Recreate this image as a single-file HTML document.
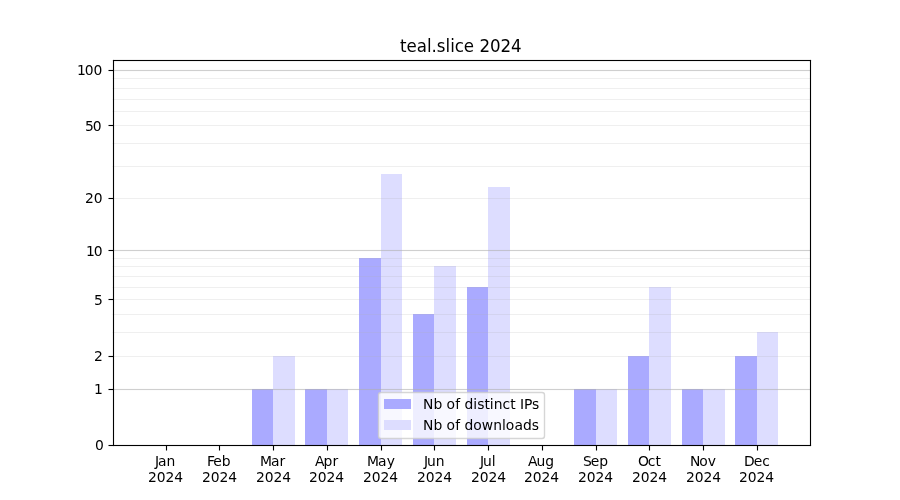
<!DOCTYPE html>
<html lang="en">
<head>
<meta charset="utf-8">
<title>teal.slice 2024</title>
<style>
html,body{margin:0;padding:0;background:#fff;width:900px;height:500px;overflow:hidden}
svg{display:block;will-change:transform}
text{font-family:"DejaVu Sans","Liberation Sans",sans-serif;fill:#000;font-size:13.889px}
.t{font-size:16.667px}
.bar{shape-rendering:crispEdges}
</style>
</head>
<body>
<svg width="900" height="500" viewBox="0 0 900 500">
<rect width="900" height="500" fill="#fff"/>
<g class="bar" fill="#aaaaff">
<rect x="252" y="389" width="21" height="56"/>
<rect x="305" y="389" width="22" height="56"/>
<rect x="359" y="258" width="22" height="187"/>
<rect x="413" y="314" width="21" height="131"/>
<rect x="467" y="287" width="21" height="158"/>
<rect x="574" y="389" width="22" height="56"/>
<rect x="628" y="356" width="21" height="89"/>
<rect x="682" y="389" width="21" height="56"/>
<rect x="735" y="356" width="22" height="89"/>
</g>
<g class="bar" fill="#ddddff">
<rect x="273" y="356" width="22" height="89"/>
<rect x="327" y="389" width="21" height="56"/>
<rect x="381" y="174" width="21" height="271"/>
<rect x="434" y="266" width="22" height="179"/>
<rect x="488" y="187" width="22" height="258"/>
<rect x="596" y="389" width="21" height="56"/>
<rect x="649" y="287" width="22" height="158"/>
<rect x="703" y="389" width="22" height="56"/>
<rect x="757" y="332" width="21" height="113"/>
</g>
<g fill="#b0b0b0" fill-opacity="0.605">
<rect x="112.5" y="388.944" width="697.5" height="1.111"/>
<rect x="112.5" y="249.944" width="697.5" height="1.111"/>
<rect x="112.5" y="69.944" width="697.5" height="1.111"/>
</g>
<g fill="#b0b0b0" fill-opacity="0.2">
<rect x="112.5" y="355.944" width="697.5" height="1.111"/>
<rect x="112.5" y="331.944" width="697.5" height="1.111"/>
<rect x="112.5" y="313.944" width="697.5" height="1.111"/>
<rect x="112.5" y="298.944" width="697.5" height="1.111"/>
<rect x="112.5" y="286.944" width="697.5" height="1.111"/>
<rect x="112.5" y="275.944" width="697.5" height="1.111"/>
<rect x="112.5" y="265.944" width="697.5" height="1.111"/>
<rect x="112.5" y="257.944" width="697.5" height="1.111"/>
<rect x="112.5" y="197.944" width="697.5" height="1.111"/>
<rect x="112.5" y="165.944" width="697.5" height="1.111"/>
<rect x="112.5" y="142.944" width="697.5" height="1.111"/>
<rect x="112.5" y="124.944" width="697.5" height="1.111"/>
<rect x="112.5" y="110.944" width="697.5" height="1.111"/>
<rect x="112.5" y="98.944" width="697.5" height="1.111"/>
<rect x="112.5" y="87.944" width="697.5" height="1.111"/>
<rect x="112.5" y="77.944" width="697.5" height="1.111"/>
</g>
<g fill="#000">
<rect x="165.944" y="445" width="1.111" height="5.5"/>
<rect x="218.944" y="445" width="1.111" height="5.5"/>
<rect x="272.944" y="445" width="1.111" height="5.5"/>
<rect x="326.944" y="445" width="1.111" height="5.5"/>
<rect x="380.944" y="445" width="1.111" height="5.5"/>
<rect x="433.944" y="445" width="1.111" height="5.5"/>
<rect x="487.944" y="445" width="1.111" height="5.5"/>
<rect x="541.944" y="445" width="1.111" height="5.5"/>
<rect x="595.944" y="445" width="1.111" height="5.5"/>
<rect x="648.944" y="445" width="1.111" height="5.5"/>
<rect x="702.944" y="445" width="1.111" height="5.5"/>
<rect x="756.944" y="445" width="1.111" height="5.5"/>
<rect x="108.5" y="444.944" width="4.5" height="1.111"/>
<rect x="108.5" y="388.944" width="4.5" height="1.111"/>
<rect x="108.5" y="355.944" width="4.5" height="1.111"/>
<rect x="108.5" y="298.944" width="4.5" height="1.111"/>
<rect x="108.5" y="249.944" width="4.5" height="1.111"/>
<rect x="108.5" y="197.944" width="4.5" height="1.111"/>
<rect x="108.5" y="124.944" width="4.5" height="1.111"/>
<rect x="108.5" y="69.944" width="4.5" height="1.111"/>
<rect x="112.944" y="59.944" width="1.111" height="386.111"/>
<rect x="809.944" y="59.944" width="1.111" height="386.111"/>
<rect x="112.944" y="59.944" width="698.111" height="1.111"/>
<rect x="112.944" y="444.944" width="698.111" height="1.111"/>
</g>
<rect x="378.5" y="392.5" width="166" height="46" rx="2.5" ry="2.5" fill="#fff" fill-opacity="0.8" stroke="#ccc" stroke-opacity="0.8" stroke-width="1.389"/>
<rect class="bar" x="384" y="399" width="27" height="10" fill="#aaaaff"/>
<rect class="bar" x="384" y="420" width="27" height="10" fill="#ddddff"/>
<text x="154.994 158.072 166.588" y="466">Jan</text>
<text x="148.026 156.839 165.417 174.245" y="482">2024</text>
<text x="206.892 213.361 221.642" y="466">Feb</text>
<text x="202.012 210.824 219.403 228.231" y="482">2024</text>
<text x="260.07 271.039 279.539" y="466">Mar</text>
<text x="255.999 264.811 273.39 282.218" y="482">2024</text>
<text x="314.895 323.379 332.442" y="466">Apr</text>
<text x="308.985 317.797 326.376 335.204" y="482">2024</text>
<text x="367.038 378.007 386.757" y="466">May</text>
<text x="362.972 371.784 380.613 389.191" y="482">2024</text>
<text x="424.031 427.109 435.656" y="466">Jun</text>
<text x="416.958 425.771 434.599 443.177" y="482">2024</text>
<text x="479.989 483.067 491.864" y="466">Jul</text>
<text x="470.945 479.758 488.586 497.164" y="482">2024</text>
<text x="528.045 536.529 545.326" y="466">Aug</text>
<text x="523.931 532.744 541.572 550.15" y="482">2024</text>
<text x="583.001 590.798 599.345" y="466">Sep</text>
<text x="577.918 586.731 595.559 604.137" y="482">2024</text>
<text x="638.07 647.726 655.617" y="466">Oct</text>
<text x="631.904 640.716 649.545 658.373" y="482">2024</text>
<text x="690.01 699.135 707.869" y="466">Nov</text>
<text x="685.891 694.703 703.532 712.36" y="482">2024</text>
<text x="744.112 753.784 762.331" y="466">Dec</text>
<text x="738.877 747.69 756.518 765.346" y="482">2024</text>
<text x="94.95" y="450">0</text>
<text x="93.95" y="394">1</text>
<text x="93.95" y="361">2</text>
<text x="93.95" y="305">5</text>
<text x="86.122 93.684" y="256">10</text>
<text x="85.122 93.684" y="203">20</text>
<text x="85.122 92.684" y="131">50</text>
<text x="77.044 84.856 93.434" y="75">100</text>
<text class="t" transform="matrix(1 0 0 1.08 0 -4.16)" x="400.031 406.547 416.797 427.016 431.391 436.688 445.609 450.234 454.859 463.766 474.266 479.562 489.906 500.516 511.109" y="52">teal.slice 2024</text>
<text x="422.995 433.62 442.417 446.589 455.323 460.214 464.62 473.182 477.276 484.511 489.698 493.807 502.604 510.229 515.667 520.073 523.917 532.042" y="409">Nb of distinct IPs</text>
<text x="422.995 433.62 442.417 446.589 455.323 460.214 464.62 473.182 481.667 493.261 502.057 505.667 514.401 522.901 531.714" y="430">Nb of downloads</text>
</svg>
</body>
</html>
